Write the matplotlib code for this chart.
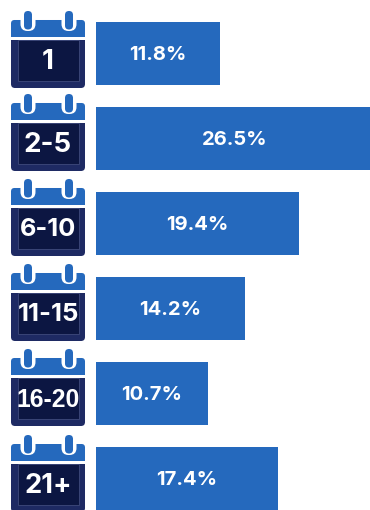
import matplotlib
matplotlib.use("Agg")
import matplotlib.pyplot as plt
from matplotlib.patches import FancyBboxPatch, Rectangle

categorias = ["1", "2-5", "6-10", "11-15", "16-20", "21+"]
porcentajes = [11.8, 26.5, 19.4, 14.2, 10.7, 17.4]
etiquetas = ["11.8%", "26.5%", "19.4%", "14.2%", "10.7%", "17.4%"]

azul = "#2569bd"
marino = "#1e2a63"
fondo = "#0c1642"
W, H = 370, 510

# 5.1 * 100 se queda en 509 al truncar, por eso el 0.01
fig = plt.figure(figsize=((W + 0.01) / 100, (H + 0.01) / 100), dpi=100)

# capa en pixeles para los calendarios
cal = fig.add_axes([0, 0, 1, 1])
cal.set_xlim(0, W)
cal.set_ylim(H, 0)
cal.axis("off")

# barras: 10.47 px por punto porcentual, la de 26.5 se corta en el borde
ax = fig.add_axes([96 / W, 0, (W - 96) / W, 1])
ax.patch.set_alpha(0)
ax.set_xlim(0, (W - 96) / 10.47)
ax.set_ylim(H, 0)
ax.axis("off")
centros = [53.5, 138.5, 223.5, 308.5, 393.5, 478.5]
ax.barh(centros, porcentajes, height=63, color=azul)
for c, p, e in zip(centros, porcentajes, etiquetas):
    ax.text(p / 2, c + 1.5, e, color="white", fontsize=14.5, fontweight="bold",
            family="Inter", ha="center", va="center", clip_on=False)


def calendario(top, texto, size, fuente):
    # cuerpo oscuro
    cal.add_patch(FancyBboxPatch((11, top + 29), 74, 48, boxstyle="round,pad=0,rounding_size=4",
                                 fc=marino, ec="none"))
    cal.add_patch(Rectangle((11, top + 29), 74, 6, fc=marino, ec="none"))
    cal.add_patch(Rectangle((17.5, top + 29), 61.5, 41, fc=fondo, ec="#3a4577", lw=0.7))
    # encabezado azul
    cal.add_patch(FancyBboxPatch((11, top + 9), 74, 17, boxstyle="round,pad=0,rounding_size=3.5",
                                 fc=azul, ec="none"))
    cal.add_patch(Rectangle((11, top + 18), 74, 8, fc=azul, ec="none"))
    # anillas
    for x in (28, 69):
        cal.add_patch(FancyBboxPatch((x - 7.5, top + 2), 15, 18, boxstyle="round,pad=0,rounding_size=7",
                                     fc="white", ec="none"))
        cal.add_patch(FancyBboxPatch((x - 4, top), 8, 18.5, boxstyle="round,pad=0,rounding_size=4",
                                     fc=azul, ec="none"))
    cal.text(48, top + 50.5, texto, color="white", fontsize=size, fontweight="bold",
             family=fuente, ha="center", va="center")


tops = [11, 94, 179, 264, 349, 435]
tamanos = [20, 20, 18.3, 18.5, 17.8, 19.7]
fuentes = ["Inter", "Inter", "Inter", "Inter", "Liberation Sans", "Inter"]
for t, c, s, f in zip(tops, categorias, tamanos, fuentes):
    calendario(t, c, s, f)

fig.savefig("out.png", dpi=100, facecolor="white")
